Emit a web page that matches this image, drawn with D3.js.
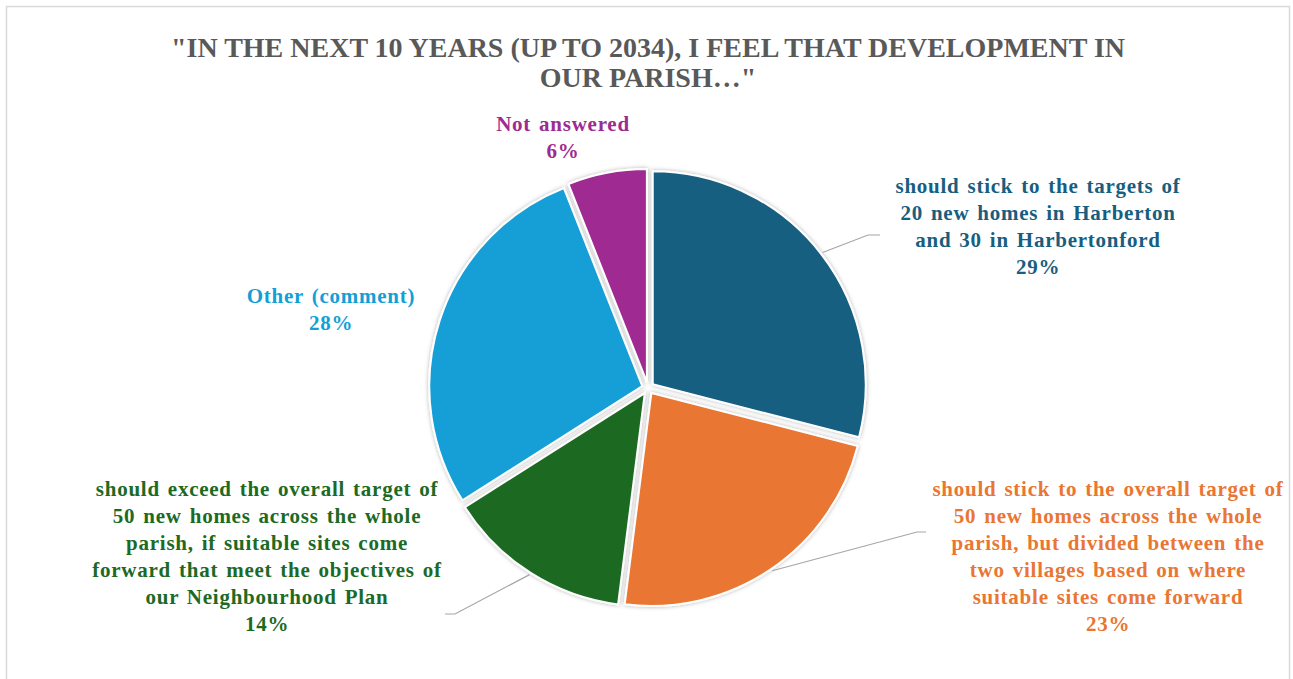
<!DOCTYPE html>
<html>
<head>
<meta charset="utf-8">
<script src="https://cdn.jsdelivr.net/npm/d3@7"></script>
<style>
  body { margin: 0; background: #fff; }
  text { font-family: "Liberation Serif", "Times New Roman", "DejaVu Serif", serif; font-weight: bold; }
</style>
</head>
<body>
<div id="chart"></div>
<script>
// answers, clockwise from 12 o'clock
var categories = [
  "should stick to the targets of 20 new homes in Harberton and 30 in Harbertonford",
  "should stick to the overall target of 50 new homes across the whole parish, but divided between the two villages based on where suitable sites come forward",
  "should exceed the overall target of 50 new homes across the whole parish, if suitable sites come forward that meet the objectives of our Neighbourhood Plan",
  "Other (comment)",
  "Not answered"
];
var values = [29, 23, 14, 28, 6];
var colors = ["#175e80", "#e97632", "#1c6a24", "#139fd6", "#9e2b92"];

// how the label text is broken into lines (as in the picture)
var labelLines = [
  ["should stick to the targets of", "20 new homes in Harberton", "and 30 in Harbertonford"],
  ["should stick to the overall target of", "50 new homes across the whole", "parish, but divided between the", "two villages based on where", "suitable sites come forward"],
  ["should exceed the overall target of", "50 new homes across the whole", "parish, if suitable sites come", "forward that meet the objectives of", "our Neighbourhood Plan"],
  ["Other (comment)"],
  ["Not answered"]
];

var title = ["\"IN THE NEXT 10 YEARS (UP TO 2034), I FEEL THAT DEVELOPMENT IN", "OUR PARISH\u2026\""];

var width = 1293, height = 679;
var cx = 648, cy = 388, radius = 213, explode = 6;

// label anchor (centre x, first baseline) and leader elbow / end
var labelLayout = [
  {x: 1038, y: 193, leader: [[868, 235], [880, 235]]},
  {x: 1108, y: 496, leader: [[917, 532], [926, 532]]},
  {x: 267, y: 496, leader: [[455, 614], [445, 614]]},
  {x: 331, y: 303, leader: null},
  {x: 563, y: 131, leader: null}
];

var svg = d3.select("#chart").append("svg")
  .attr("width", width)
  .attr("height", height);

var defs = svg.append("defs");
defs.append("filter")
    .attr("id", "shadow")
    .attr("x", "-20%").attr("y", "-20%")
    .attr("width", "140%").attr("height", "140%")
  .append("feDropShadow")
    .attr("dx", 0).attr("dy", 0)
    .attr("stdDeviation", 2)
    .attr("flood-color", "#000")
    .attr("flood-opacity", 0.3);

// chart frame
svg.append("rect")
  .attr("x", 6.5).attr("y", 6.5)
  .attr("width", 1283).attr("height", 700)
  .attr("fill", "#fff")
  .attr("stroke", "#d9d9d9")
  .attr("stroke-width", 1.5);

// title
svg.append("text")
  .attr("x", cx)
  .attr("y", 57)
  .attr("text-anchor", "middle")
  .style("font-size", "28px")
  .style("fill", "#595959")
  .selectAll("tspan")
  .data(title)
  .enter().append("tspan")
    .attr("x", cx)
    .attr("dy", function(d, i){ return i ? 30 : 0; })
    .text(function(d){ return d; });

var pie = d3.pie().sort(null).value(function(d){ return d; });
var arcs = pie(values);

var arc = d3.arc().innerRadius(0).outerRadius(radius);

function offset(d, k){
  var a = (d.startAngle + d.endAngle) / 2;
  return [Math.sin(a) * k, -Math.cos(a) * k];
}

var g = svg.append("g")
  .attr("transform", "translate(" + cx + "," + cy + ")");

g.selectAll(".slice")
  .data(arcs)
  .enter().append("path")
    .attr("class", "slice")
    .attr("transform", function(d){ return "translate(" + offset(d, explode) + ")"; })
    .attr("d", arc)
    .attr("fill", function(d, i){ return colors[i]; })
    .attr("stroke", "#fff")
    .attr("stroke-width", 2)
    .attr("filter", "url(#shadow)");

// leader lines
arcs.forEach(function(d, i){
  var lay = labelLayout[i];
  if (!lay.leader) return;
  var o = offset(d, explode);
  var a = (d.startAngle + d.endAngle) / 2;
  var start = [cx + o[0] + Math.sin(a) * (radius + 2), cy + o[1] - Math.cos(a) * (radius + 2)];
  svg.append("path")
    .attr("d", d3.line()([start].concat(lay.leader)))
    .attr("fill", "none")
    .attr("stroke", "#a6a6a6")
    .attr("stroke-width", 1.2);
});

// data labels
arcs.forEach(function(d, i){
  var lay = labelLayout[i];
  var lines = labelLines[i].concat([d3.format(".0f")(d.value / d3.sum(values) * 100) + "%"]);
  svg.append("text")
    .attr("x", lay.x)
    .attr("y", lay.y)
    .attr("text-anchor", "middle")
    .style("font-size", "21px")
    .style("letter-spacing", "0.75px")
    .style("word-spacing", "2px")
    .style("fill", colors[i])
    .selectAll("tspan")
    .data(lines)
    .enter().append("tspan")
      .attr("x", lay.x)
      .attr("dy", function(t, j){ return j ? 27 : 0; })
      .text(function(t){ return t; });
});
</script>
</body>
</html>
